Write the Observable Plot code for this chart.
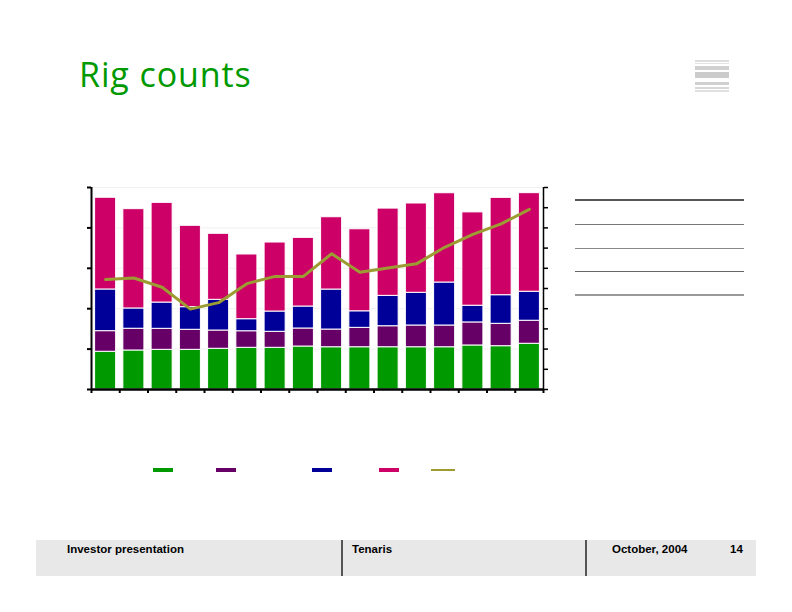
<!DOCTYPE html>
<html>
<head>
<meta charset="utf-8">
<script src="https://cdn.jsdelivr.net/npm/d3@7"></script>
<script src="https://cdn.jsdelivr.net/npm/@observablehq/plot@0.6"></script>
<style>
  html, body { margin: 0; padding: 0; background: #fff; }
  #page { position: relative; width: 792px; height: 612px; overflow: hidden; font-family: "Open Sans", sans-serif; }
  #title { position: absolute; left: 79px; top: 51px; font-size: 34px; letter-spacing: 0.9px; color: #009900; font-family: "Open Sans", sans-serif; line-height: 46px; }
  #chart { position: absolute; left: 60px; top: 170px; }
  .abs { position: absolute; }
  .ft { position: absolute; top: 543px; font-family: "Liberation Sans", Arial, sans-serif; font-weight: bold; font-size: 11.5px; color: #000; }
</style>
</head>
<body>
<div id="page">
  <div id="title">Rig counts</div>
  <div id="chart"></div>
  <div id="table"></div>
  <div id="logo"></div>
  <div id="legend"></div>
  <div id="footer"></div>
</div>
<script>
// Quarters (x categories, unlabeled in the reference)
const periods = d3.range(1, 17);
// Stacked bar series (rig counts, left axis 0-2500)
const seriesNames = ["Series 1", "Series 2", "Series 3", "Series 4"];
const series1 = [467, 483, 491, 491, 504, 516, 516, 532, 523, 523, 523, 523, 523, 545, 536, 566];
const series2 = [255, 269, 260, 248, 226, 205, 198, 223, 219, 240, 260, 269, 269, 285, 277, 285];
const series3 = [516, 251, 325, 280, 380, 149, 251, 272, 495, 205, 376, 405, 532, 207, 354, 359];
const series4 = [1135, 1229, 1234, 1007, 817, 801, 854, 850, 895, 1015, 1080, 1105, 1105, 1155, 1205, 1220];
// Line series (right axis 0-50)
const lineValues = [27.2, 27.6, 25.3, 19.9, 21.5, 26.2, 28.0, 28.0, 33.6, 29.0, 30.1, 31.1, 35.2, 38.4, 41.0, 44.6];
const colors = ["#009900", "#660066", "#000099", "#cc0066"];
const lineColor = "#9c9c33";
const leftMax = 2500, rightMax = 50;

const allSeries = [series1, series2, series3, series4];
const bars = [];
allSeries.forEach((vals, s) => vals.forEach((v, i) => bars.push({i, period: periods[i], series: seriesNames[s], value: v})));
const line = lineValues.map((v, i) => ({i, v}));
const k = leftMax / rightMax;

const plot = Plot.plot({
  width: 520, height: 240,
  marginTop: 17, marginRight: 37, marginBottom: 21, marginLeft: 31,
  x: {domain: [0, periods.length], axis: null, label: null},
  y: {domain: [0, leftMax], axis: null, label: null},
  color: {domain: seriesNames, range: colors},
  style: {background: "transparent"},
  marks: [
    Plot.gridY(d3.range(0, leftMax + 1, 500), {stroke: "#f0f0f0", strokeOpacity: 1}),
    Plot.rectY(bars, {x1: "i", x2: d => d.i + 1, y: "value", fill: "series", stroke: "white", strokeWidth: 1, insetLeft: 3.6, insetRight: 3.6, order: seriesNames}),
    Plot.lineY(line, {x: d => d.i + 0.5, y: d => d.v * k, stroke: lineColor, strokeWidth: 3}),
    Plot.axisY(d3.range(0, leftMax + 1, 500), {anchor: "left", tickSize: 4, tickFormat: () => "", label: null, stroke: "black", strokeWidth: 2}),
    Plot.axisY(d3.range(0, rightMax + 1, 5).map(v => v * k), {anchor: "right", tickSize: 4, tickFormat: () => "", label: null, stroke: "black", strokeWidth: 1.5}),
    Plot.axisX(d3.range(0, periods.length + 1), {anchor: "bottom", tickSize: 4, tickFormat: () => "", label: null, stroke: "black", strokeWidth: 2}),
    Plot.ruleX([0], {stroke: "black", strokeWidth: 2}),
    Plot.ruleX([periods.length], {stroke: "black", strokeWidth: 1.5}),
    Plot.ruleY([0], {stroke: "black", strokeWidth: 2.5})
  ]
});
document.getElementById("chart").appendChild(plot);

// Empty table lines on the right
const tableLines = [
  {y: 199, c: "#555", h: 2},
  {y: 224, c: "#777", h: 1},
  {y: 248, c: "#888", h: 1},
  {y: 271, c: "#666", h: 1},
  {y: 294, c: "#999", h: 1.5}
];
const table = document.getElementById("table");
tableLines.forEach(l => {
  const d = document.createElement("div");
  d.className = "abs";
  Object.assign(d.style, {left: "575px", top: l.y + "px", width: "169px", height: l.h + "px", background: l.c});
  table.appendChild(d);
});

// Logo stripes
const stripes = [
  {y: 60, h: 1.5, c: "#dddddd"}, {y: 62.5, h: 1.5, c: "#e2e2e2"},
  {y: 66, h: 4, c: "#d0d0d0"}, {y: 72, h: 6, c: "#cccccc"},
  {y: 81.5, h: 3.5, c: "#d0d0d0"}, {y: 86.5, h: 2, c: "#d8d8d8"}, {y: 90, h: 1.5, c: "#e0e0e0"}
];
const logo = document.getElementById("logo");
stripes.forEach(s => {
  const d = document.createElement("div");
  d.className = "abs";
  Object.assign(d.style, {left: "695px", top: s.y + "px", width: "34px", height: s.h + "px", background: s.c});
  logo.appendChild(d);
});

// Legend swatches (no labels in the reference)
const legendX = [153, 216, 312, 379];
const legend = document.getElementById("legend");
colors.forEach((c, i) => {
  const d = document.createElement("div");
  d.className = "abs";
  Object.assign(d.style, {left: legendX[i] + "px", top: "468px", width: "20px", height: "4px", background: c});
  legend.appendChild(d);
});
{
  const d = document.createElement("div");
  d.className = "abs";
  Object.assign(d.style, {left: "431px", top: "468.5px", width: "24px", height: "2.5px", background: lineColor});
  legend.appendChild(d);
}

// Footer
const footer = document.getElementById("footer");
footer.innerHTML = `
  <div class="abs" style="left:36px;top:540px;width:720px;height:36px;background:#e8e8e8"></div>
  <div class="abs" style="left:341px;top:540px;width:2px;height:36px;background:#555"></div>
  <div class="abs" style="left:585px;top:540px;width:2px;height:36px;background:#555"></div>
  <div class="ft" style="left:67px">Investor presentation</div>
  <div class="ft" style="left:352px">Tenaris</div>
  <div class="ft" style="left:612px">October, 2004</div>
  <div class="ft" style="left:730px">14</div>
`;
</script>
</body>
</html>
